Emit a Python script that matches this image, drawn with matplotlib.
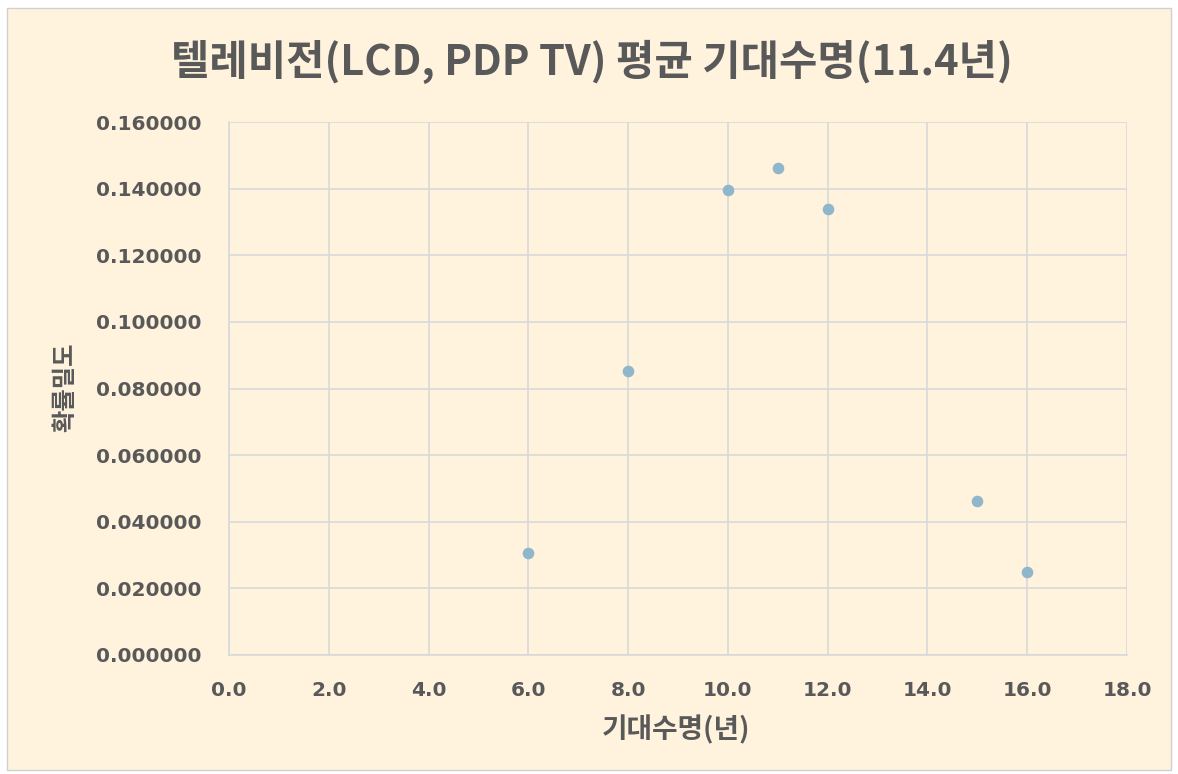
import matplotlib
matplotlib.use("Agg")
import matplotlib.pyplot as plt
from matplotlib.patches import Rectangle
from matplotlib.ticker import FormatStrFormatter

plt.rcParams["font.family"] = ["Noto Sans CJK KR", "DejaVu Sans"]

# 기대수명(년) / 확률밀도
years = [6, 8, 10, 11, 12, 15, 16]
density = [0.0306, 0.0853, 0.1396, 0.1462, 0.1339, 0.0462, 0.0249]

x_ticks = [0, 2, 4, 6, 8, 10, 12, 14, 16, 18]
y_ticks = [0.0, 0.02, 0.04, 0.06, 0.08, 0.10, 0.12, 0.14, 0.16]

BG = "#fff3de"
TXT = "#595959"
GRID = "#d9d9d9"
DOT = "#8fb6cb"

W, H = 1178, 774
fig = plt.figure(figsize=(W / 100, H / 100), dpi=100, facecolor="white")

# 차트 영역 배경
fig.patches.append(Rectangle((7 / W, 4 / H), 1164 / W, 762 / H, transform=fig.transFigure,
                             facecolor=BG, edgecolor="#d0d0d0", linewidth=1, zorder=-5))

ax = fig.add_axes([229 / W, 1 - 655 / H, (1127 - 229) / W, (655 - 122) / H])
ax.set_facecolor(BG)
ax.scatter(years, density, s=70, color=DOT, zorder=3, linewidths=0)

ax.set_xlim(0, 18)
ax.set_ylim(0, 0.16)
ax.set_xticks(x_ticks)
ax.set_yticks(y_ticks)
ax.xaxis.set_major_formatter(FormatStrFormatter("%.1f"))
ax.yaxis.set_major_formatter(FormatStrFormatter("%.6f"))
ax.grid(True, color=GRID, linewidth=1.2, zorder=0)
ax.set_axisbelow(True)
for side in ["top", "right"]:
    ax.spines[side].set_visible(False)
for side in ["left", "bottom"]:
    ax.spines[side].set_color(GRID)
    ax.spines[side].set_linewidth(1.2)
ax.tick_params(length=0, labelsize=14.5, labelcolor=TXT)
ax.tick_params(axis="y", pad=20)
ax.tick_params(axis="x", pad=19)
for lab in ax.get_xticklabels() + ax.get_yticklabels():
    lab.set_family("DejaVu Sans")
    lab.set_fontweight("bold")

fig.text(592 / W, 1 - 62 / H, "텔레비전(LCD, PDP TV) 평균 기대수명(11.4년)",
         ha="center", va="center", fontsize=30, fontweight="bold", color=TXT)
fig.text(676 / W, 1 - 730 / H, "기대수명(년)", ha="center", va="center",
         fontsize=20, fontweight="bold", color=TXT)
fig.text(65 / W, 1 - 387 / H, "확률밀도", ha="center", va="center", rotation=90,
         fontsize=17.5, fontweight="bold", color=TXT)

fig.savefig("out.png", dpi=100, facecolor="white")
